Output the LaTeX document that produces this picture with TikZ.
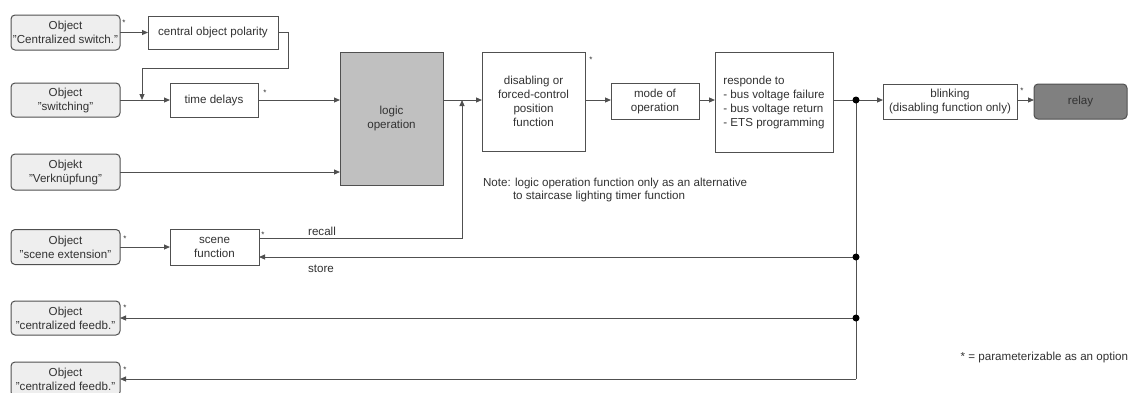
\documentclass[tikz,border=0pt]{standalone}
\usepackage{fontspec}
\setmainfont{Liberation Sans}
\usetikzlibrary{arrows.meta,calc}
\definecolor{linec}{RGB}{80,80,80}
\definecolor{txtc}{RGB}{50,50,50}
\definecolor{objfill}{RGB}{238,238,238}
\definecolor{logicfill}{RGB}{192,192,192}
\definecolor{relayfill}{RGB}{128,128,128}
\begin{document}
\begin{tikzpicture}[x=1pt,y=-1pt,
 every node/.style={font=\fontsize{11.6}{14}\selectfont, text=txtc, inner sep=0pt, outer sep=0pt},
 objbox/.style={draw=linec, fill=objfill, rounded corners=4pt, minimum width=109pt, align=center, line width=1pt},
 fbox/.style={draw=linec, fill=white, align=center, line width=1pt},
 conn/.style={draw=linec, line width=1pt},
 arr/.style={conn, -{Triangle[length=6pt,width=5pt]}},
 star/.style={font=\fontsize{8}{8}\selectfont},
 lbl/.style={font=\fontsize{11.6}{14}\selectfont}]
\useasboundingbox (0,0) rectangle (1134,392);
\fill[white] (0,0) rectangle (1134,392);

% nodes
\node[objbox, minimum height=35pt] (o1) at (65.5,32.5) {Object\\"Centralized switch."};
\node[fbox, minimum width=130pt, minimum height=33pt] (pol) at (213,32.5) {central object polarity};
\node[objbox, minimum height=34pt] (o2) at (65.5,100) {Object\\"switching"};
\node[fbox, minimum width=88pt, minimum height=34pt] (td) at (214,100) {time delays};
\node[fbox, fill=logicfill, minimum width=103pt, minimum height=133pt] (lo) at (391.5,118.5) {logic\\operation};
\node[objbox, minimum height=36pt] (o3) at (65.5,172) {Objekt\\"Verknüpfung"};
\node[fbox, minimum width=103pt, minimum height=99pt] (dis) at (533.5,101.5) {disabling or\\forced-control\\position\\function};
\node[fbox, minimum width=88pt, minimum height=36pt] (mode) at (655,101) {mode of\\operation};
\node[fbox, minimum width=118pt, minimum height=100pt, align=left] (resp) at (774,102) {responde to\\- bus voltage failure\\- bus voltage return\\- ETS programming};
\node[fbox, minimum width=134pt, minimum height=35pt] (bl) at (950,101.5) {blinking\\(disabling function only)};
\node[objbox, fill=relayfill, minimum width=93pt, minimum height=35pt] (relay) at (1080.5,101.5) {relay};
\node[objbox, minimum height=35pt] (o4) at (65.5,247) {Object\\"scene extension"};
\node[fbox, minimum width=89pt, minimum height=36pt] (sc) at (214.5,247) {scene\\function};
\node[objbox, minimum height=34pt] (o5) at (65.5,318) {Object\\"centralized feedb."};
\node[objbox, minimum height=34pt] (o6) at (65.5,379) {Object\\"centralized feedb."};

% coordinates
\coordinate (row) at (0,100);
\coordinate (j1) at (142,100);
\coordinate (j2) at (462,100);
\coordinate (d1) at (856,100);
\coordinate (d2) at (856,257);
\coordinate (d3) at (856,318);
\coordinate (d4) at (856,379);

% connectors
\draw[arr] (o1.east) -- (pol.west);
\draw[arr] (pol.east) -| (288,68) -| (j1);
\draw[arr] (o2.east) -- (td.west);
\draw[arr] (td.east) -- (td.east -| lo.west);
\draw[arr] (o3.east) -- (o3.east -| lo.west);
\draw[arr] (lo.east |- row) -- (dis.west |- row);
\draw[arr] ([yshift=9pt]sc.east) -| (j2);
\draw[arr] (dis.east |- row) -- (mode.west |- row);
\draw[arr] (mode.east |- row) -- (resp.west |- row);
\draw[conn] (resp.east |- row) -- (d1);
\draw[arr] (d1) -- (bl.west |- row);
\draw[arr] (bl.east |- row) -- (relay.west |- row);
\draw[conn] (d1) -- (d4);
\draw[arr] (d2) -- ([yshift=-10pt]sc.east);
\draw[arr] (d3) -- (o5.east);
\draw[arr] (d4) -- (o6.east);
\draw[arr] (o4.east) -- (sc.west |- o4.east);
\fill[black] (d1) circle (3.5pt) (d2) circle (3.5pt) (d3) circle (3.5pt);

% labels
\node[lbl] (recall) at (322,231) {recall};
\node[lbl] (store) at (321,269) {store};
\node[lbl, anchor=west] (note1) at (483,183) {Note: logic operation function only as an alternative};
\node[lbl, anchor=west] (note2) at (513,196) {to staircase lighting timer function};
\node[lbl, anchor=east] (param) at (1128,357) {* = parameterizable as an option};

% stars
\node[star] (s1) at (124,23) {*};
\node[star] (s2) at (265,93) {*};
\node[star] (s3) at (591,60) {*};
\node[star] (s4) at (1022,91) {*};
\node[star] (s5) at (125,239) {*};
\node[star] (s6) at (263,235) {*};
\node[star] (s7) at (125,308) {*};
\node[star] (s8) at (125,370) {*};
\end{tikzpicture}
\end{document}
